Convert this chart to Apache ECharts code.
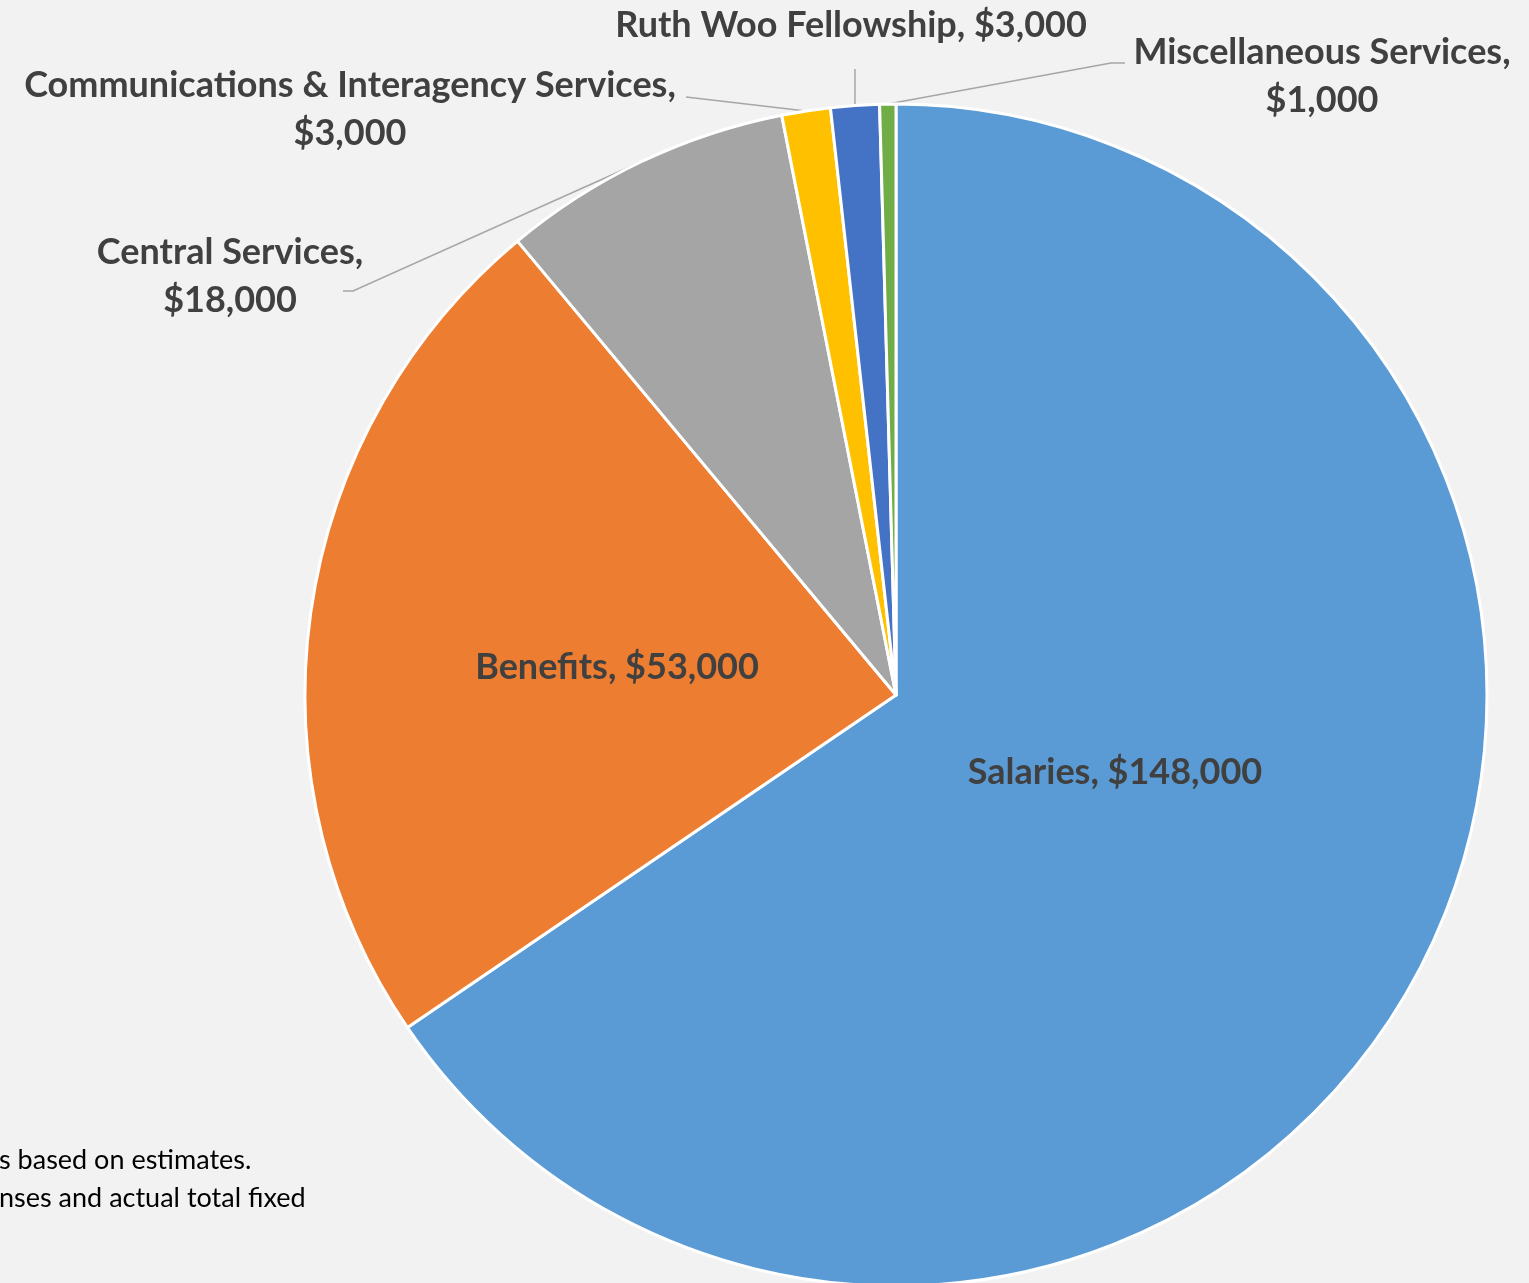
<!DOCTYPE html>
<html>
<head>
<meta charset="utf-8">
<script src="https://cdn.jsdelivr.net/npm/echarts@6/dist/echarts.min.js"></script>
<style>
  html, body { margin: 0; padding: 0; background: #f2f2f2; }
  #chart { width: 1529px; height: 1283px; }
</style>
</head>
<body>
<div id="chart"></div>
<script>
const categories = [
  'Salaries',
  'Benefits',
  'Central Services',
  'Communications & Interagency Services',
  'Ruth Woo Fellowship',
  'Miscellaneous Services',
]
const amounts = [148000, 53000, 18000, 3000, 3000, 1000]
const sliceColors = ['#5b9bd5', '#ed7d31', '#a5a5a5', '#ffc000', '#4472c4', '#70ad47']
const labelTexts = [
  'Salaries, $148,000',
  'Benefits, $53,000',
  'Central Services,\n$18,000',
  'Communications & Interagency Services,\n$3,000',
  'Ruth Woo Fellowship, $3,000',
  'Miscellaneous Services,\n$1,000',
]
const footnoteLines = ['s based on estimates.', 'nses and actual total fixed']

// label anchor (centre) positions
const labelPos = [
  [1115, 772],
  [617, 667],
  [230, 276],
  [350, 109],
  [851, 25],
  [1322, 76],
]
// where each leader line meets its label (null = no leader line)
const leaderEnds = [
  null,
  null,
  [[353, 291], [343, 291]],
  [[686, 97]],
  [[855, 69]],
  [[1111, 63], [1125, 63]],
]

const CENTER = [896, 695]
const RADIUS = 591

const chart = echarts.init(document.getElementById('chart'))

const total = amounts.reduce((a, b) => a + b, 0)
// point on the rim at the middle of each slice (clockwise from 12 o'clock)
function rimPoint(i) {
  const before = amounts.slice(0, i).reduce((a, b) => a + b, 0)
  const a = ((before + amounts[i] / 2) / total) * Math.PI * 2
  return [CENTER[0] + Math.sin(a) * RADIUS, CENTER[1] - Math.cos(a) * RADIUS]
}

const pieData = categories.map((name, i) => ({
  name,
  value: amounts[i],
  itemStyle: { color: sliceColors[i] },
  label: { formatter: labelTexts[i] },
  labelLine: { show: leaderEnds[i] != null },
}))

chart.setOption({
  backgroundColor: '#f2f2f2',
  animation: false,
  graphic: footnoteLines.map((t, i) => ({
    type: 'text',
    left: -1,
    top: 1147 + i * 38,
    style: { text: t, fill: '#000', font: '27px Lato' },
  })),
  series: [
    {
      type: 'pie',
      center: CENTER,
      radius: RADIUS,
      startAngle: 90,
      clockwise: true,
      data: pieData,
      itemStyle: { borderColor: '#ffffff', borderWidth: 3 },
      label: {
        show: true,
        position: 'outside',
        color: '#404040',
        fontFamily: 'Lato',
        fontWeight: 'bold',
        fontSize: 36,
        lineHeight: 48,
        align: 'center',
        overflow: 'none',
        width: 900,
      },
      labelLine: {
        show: true,
        length: 20,
        length2: 10,
        lineStyle: { color: '#a6a6a6', width: 1.5 },
      },
      labelLayout: (p) => {
        const i = p.dataIndex
        const pos = labelPos[i]
        const out = { x: pos[0], y: pos[1], align: 'center', verticalAlign: 'middle' }
        if (leaderEnds[i]) {
          const pts = [rimPoint(i), ...leaderEnds[i]]
          while (pts.length < 3) pts.push(pts[pts.length - 1])
          out.labelLinePoints = pts
        }
        return out
      },
      emphasis: { disabled: true },
    },
  ],
})
</script>
</body>
</html>
